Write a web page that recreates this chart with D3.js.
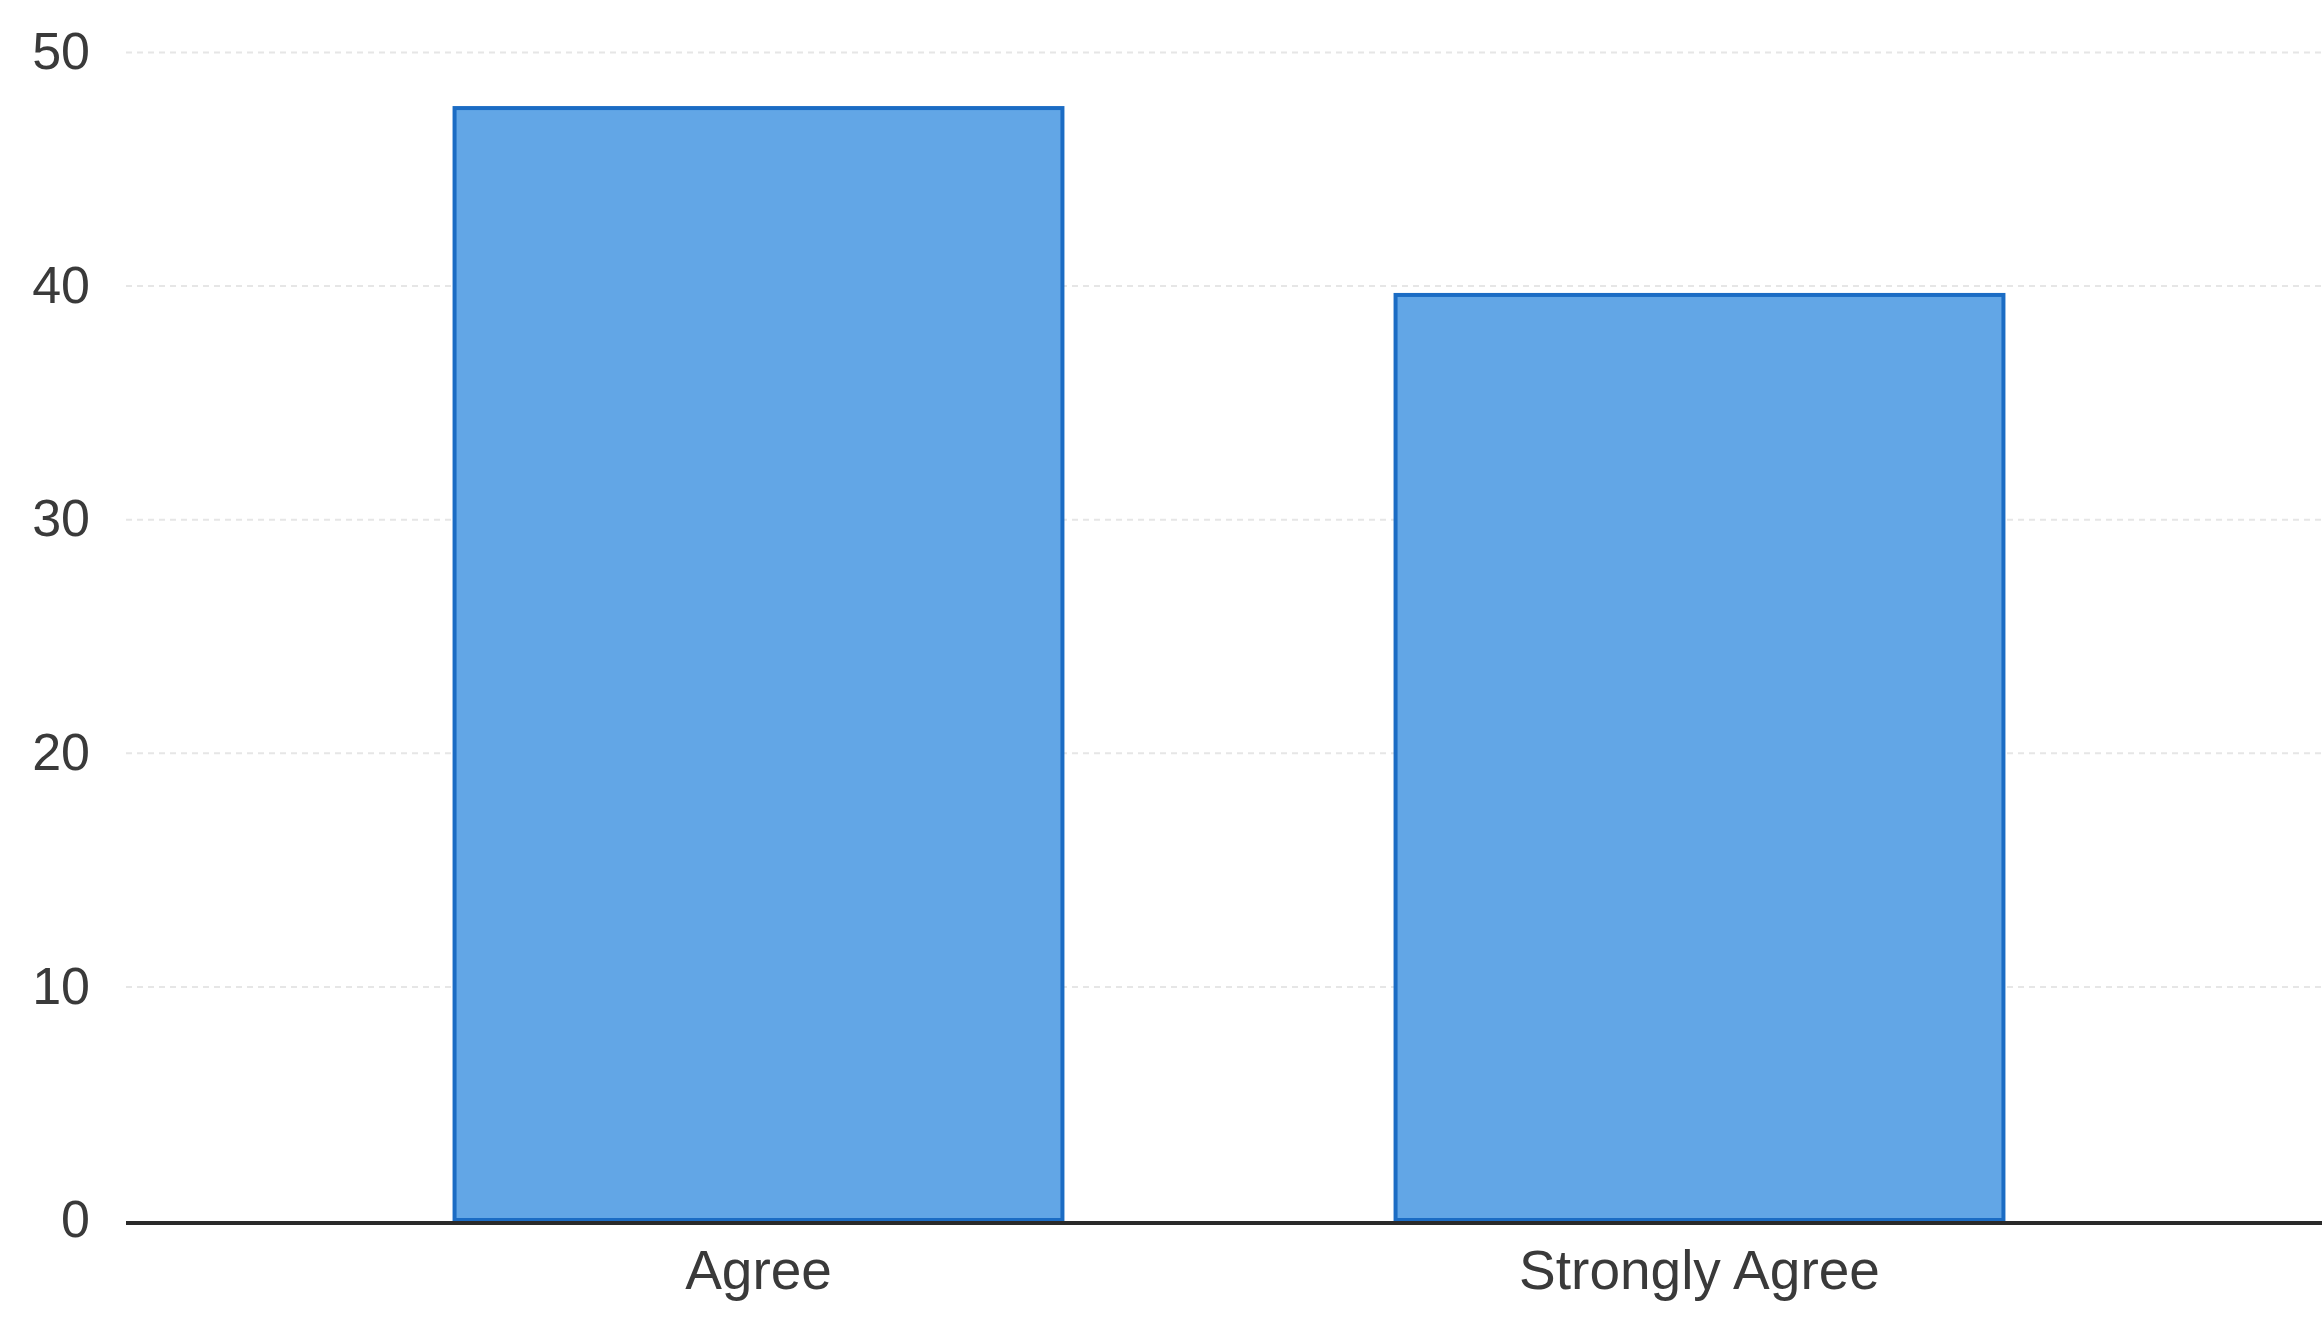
<!DOCTYPE html>
<html>
<head>
<meta charset="utf-8">
<script src="https://cdn.jsdelivr.net/npm/d3@7"></script>
<style>
  body { margin: 0; background: #fff; }
  .tick text { font-family: "Liberation Sans", Arial, sans-serif; fill: #3a3a3a; }
</style>
</head>
<body>
<div class="chart-container"></div>
<script>
// data
categories = ["Agree", "Strongly Agree"]
values = [47.6, 39.6]
yTicks = [0, 10, 20, 30, 40, 50]

W = 2322
H = 1318

svg = d3.select(".chart-container").append("svg").attr("width", W).attr("height", H)

// scales
x = d3.scaleBand().domain(categories).range([288, 2170]).paddingInner(0.354).paddingOuter(0.177)
y = d3.scaleLinear().domain([0, 50]).range([1220, 52])

// faint gridlines + y labels
yAxis = d3.axisLeft(y).tickValues(yTicks).tickSize(-(W - 126)).tickPadding(36)
yG = svg.append("g").attr("transform", "translate(126,0)").call(yAxis)
yG.select(".domain").remove()
yG.selectAll(".tick line")
  .attr("stroke", "#e6e6e6").attr("stroke-width", 2).attr("stroke-dasharray", "6,5")
  .filter(d => d == 0).remove()
yG.selectAll(".tick text").attr("font-size", 52)

// bars
svg.selectAll("rect.bar").data(values).enter()
  .append("rect").attr("class", "bar")
  .attr("x", (d, i) => x(categories[i]))
  .attr("width", x.bandwidth())
  .attr("y", d => y(d))
  .attr("height", d => y(0) - y(d))
  .attr("fill", "#62a6e6")
  .attr("stroke", "#1b6cc4")
  .attr("stroke-width", 4)

// baseline
svg.append("line")
  .attr("x1", 126).attr("x2", W)
  .attr("y1", y(0) + 3).attr("y2", y(0) + 3)
  .attr("stroke", "#2a2a2a").attr("stroke-width", 4)

// category labels
xAxis = d3.axisBottom(x).tickSize(0).tickPadding(30)
xG = svg.append("g").attr("transform", "translate(0," + y(0) + ")").call(xAxis)
xG.select(".domain").remove()
xG.selectAll(".tick text").attr("font-size", 55).attr("fill", "#222")
</script>
</body>
</html>
